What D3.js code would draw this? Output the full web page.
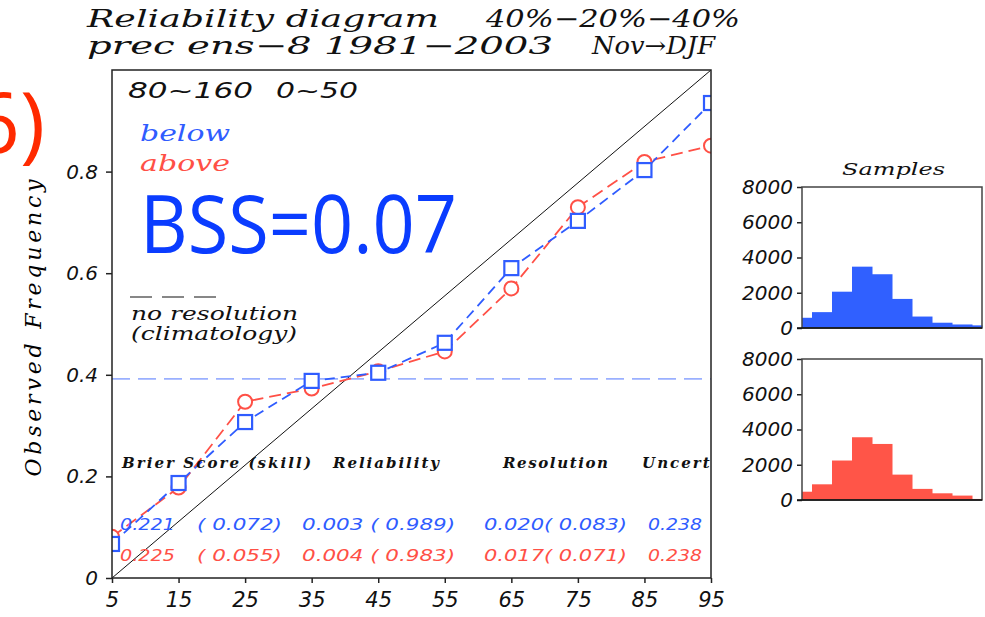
<!DOCTYPE html>
<html>
<head>
<meta charset="utf-8">
<script src="https://cdn.jsdelivr.net/npm/d3@7"></script>
<style>
body { margin: 0; background: #fff; }
</style>
</head>
<body>
<div class="container"></div>
<script>
// forecast probability bins (%)
var probBins = [5, 15, 25, 35, 45, 55, 65, 75, 85, 95];
// observed frequency per bin
var belowFreq = [0.067, 0.187, 0.307, 0.388, 0.404, 0.463, 0.610, 0.703, 0.803, 0.935];
var aboveFreq = [0.081, 0.178, 0.347, 0.373, 0.407, 0.446, 0.570, 0.730, 0.819, 0.851];
var climatology = 0.392;
// sample counts per bin
var belowSamples = [580, 900, 2060, 3480, 3050, 1650, 650, 300, 200, 150];
var aboveSamples = [470, 890, 2240, 3560, 3180, 1440, 630, 380, 250, 60];

var yTicks = [0, 0.2, 0.4, 0.6, 0.8];
var histTicks = [0, 2000, 4000, 6000, 8000];

var statHeads = ["Brier Score (skill)", "Reliability", "Resolution", "Uncert."];
var belowStats = ["0.221", "( 0.072)", "0.003 ( 0.989)", "0.020( 0.083)", "0.238"];
var aboveStats = ["0.225", "( 0.055)", "0.004 ( 0.983)", "0.017( 0.071)", "0.238"];

var blue = "#2f5cff", red = "#ff5046";
var serif = "'DejaVu Serif', serif", sans = "'DejaVu Sans', sans-serif";

var width = 985, height = 617;
var svg = d3.select("div.container").append("svg")
    .attr("width", width)
    .attr("height", height);

var x = d3.scaleLinear().domain([5, 95]).range([112, 711]),
    y = d3.scaleLinear().domain([0, 1]).range([578, 70]);

svg.append("defs").append("clipPath").attr("id", "frame")
    .append("rect")
    .attr("x", x(5)).attr("y", y(1))
    .attr("width", x(95) - x(5)).attr("height", y(0) - y(1));

// stretched text, to get the wide look of the plotting font
function label(px, py, len, font, color, str) {
    return svg.append("text").attr("x", px).attr("y", py)
        .attr("textLength", len).attr("lengthAdjust", "spacingAndGlyphs")
        .style("font", font).attr("fill", color || "#111")
        .text(str);
}

// titles
label(87, 27, 352, "italic 24px " + serif, "#111", "Reliability diagram");
label(486, 27, 254, "italic 24px " + serif, "#111", "40%\u221220%\u221240%");
label(87, 54, 466, "italic 24px " + serif, "#111", "prec ens\u22128 1981\u22122003");
label(592, 54, 123, "italic 24px " + serif, "#111", "Nov\u2192DJF");

// panel label, cut by the left edge
svg.append("text").attr("x", 45).attr("y", 153)
    .attr("text-anchor", "end")
    .attr("fill", "#ff2a00")
    .style("font", "85px 'Open Sans', sans-serif")
    .text("(6)");

// axes
var xAxis = d3.axisBottom(x).tickValues(probBins).tickSize(5).tickFormat(d3.format("d"));
var yAxis = d3.axisLeft(y).tickValues(yTicks).tickSize(6)
    .tickFormat(function(d) { return d === 0 ? "0" : d3.format(".1f")(d); });

var gx = svg.append("g").attr("transform", "translate(0," + y(0) + ")").call(xAxis);
gx.select(".domain").remove();
gx.selectAll("text").attr("y", 14).attr("dy", "0.71em")
    .style("font", "italic 21px " + sans).attr("fill", "#111");
var gy = svg.append("g").attr("transform", "translate(" + x(5) + ",0)").call(yAxis);
gy.select(".domain").remove();
gy.selectAll("text").attr("x", -14)
    .style("font", "italic 20px " + sans).attr("fill", "#111");
svg.selectAll(".tick line").attr("stroke", "#222").attr("stroke-width", 1.5);

svg.append("text")
    .attr("transform", "translate(41,328) rotate(-90)")
    .attr("text-anchor", "middle")
    .attr("textLength", 297).attr("lengthAdjust", "spacing")
    .style("font", "italic 22px " + serif)
    .text("Observed Frequency");

// plot contents
var plot = svg.append("g").attr("clip-path", "url(#frame)");

plot.append("line")
    .attr("x1", x(5)).attr("y1", y(0)).attr("x2", x(95)).attr("y2", y(1))
    .attr("stroke", "#111").attr("stroke-width", 1);

plot.append("line")
    .attr("x1", x(5)).attr("x2", x(95))
    .attr("y1", y(climatology)).attr("y2", y(climatology))
    .attr("stroke", "#9ab0ff").attr("stroke-width", 1.6)
    .attr("stroke-dasharray", "18,8");

var line = d3.line()
    .x(function(d, i) { return x(probBins[i]); })
    .y(function(d) { return y(d); });

plot.append("path").datum(aboveFreq)
    .attr("d", line).attr("fill", "none")
    .attr("stroke", red).attr("stroke-width", 1.8)
    .attr("stroke-dasharray", "12,6");
plot.append("path").datum(belowFreq)
    .attr("d", line).attr("fill", "none")
    .attr("stroke", blue).attr("stroke-width", 1.8)
    .attr("stroke-dasharray", "10,6");

plot.selectAll(".circ").data(aboveFreq).enter().append("circle")
    .attr("cx", function(d, i) { return x(probBins[i]); })
    .attr("cy", function(d) { return y(d); })
    .attr("r", 7)
    .attr("fill", "#fff").attr("stroke", red).attr("stroke-width", 2);
plot.selectAll(".sq").data(belowFreq).enter().append("rect")
    .attr("x", function(d, i) { return x(probBins[i]) - 7; })
    .attr("y", function(d) { return y(d) - 7; })
    .attr("width", 14).attr("height", 14)
    .attr("fill", "#fff").attr("stroke", blue).attr("stroke-width", 2.2);

// legend texts
label(128, 98, 125, "italic 22px " + sans, "#111", "80~160");
label(276, 98, 82, "italic 22px " + sans, "#111", "0~50");
label(140, 141, 90, "italic 22px " + serif, blue, "below");
label(140, 171, 90, "italic 22px " + serif, red, "above");
svg.append("text").attr("x", 140).attr("y", 253)
    .attr("textLength", 317).attr("lengthAdjust", "spacingAndGlyphs")
    .style("font", "80px 'Open Sans', sans-serif").attr("fill", "#0a3cff")
    .text("BSS=0.07");

svg.append("line").attr("x1", 130).attr("x2", 218).attr("y1", 297).attr("y2", 297)
    .attr("stroke", "#111").attr("stroke-width", 1.2).attr("stroke-dasharray", "22,10");
label(131, 320, 167, "italic 18px " + serif, "#111", "no resolution");
label(131, 340, 166, "italic 18px " + serif, "#111", "(climatology)");

// statistics table
var headX = [122, 333, 503, 642], headLen = [189, 106, 105, 75];
var statX = [120, 197, 302, 484, 648], statLen = [55, 85, 153, 143, 54];
var stats = svg.append("g").attr("clip-path", "url(#frame)");
stats.selectAll(".head").data(statHeads).enter().append("text")
    .attr("x", function(d, i) { return headX[i]; }).attr("y", 468)
    .attr("textLength", function(d, i) { return headLen[i]; })
    .attr("lengthAdjust", "spacing")
    .style("font", "italic bold 15px " + serif).attr("fill", "#111")
    .text(function(d) { return d; });
[[belowStats, blue, 530], [aboveStats, red, 561]].forEach(function(row) {
    stats.selectAll(null).data(row[0]).enter().append("text")
        .attr("x", function(d, i) { return statX[i]; }).attr("y", row[2])
        .attr("textLength", function(d, i) { return statLen[i]; })
        .attr("lengthAdjust", "spacingAndGlyphs")
        .style("font", "italic 15px " + sans).attr("fill", row[1])
        .text(function(d) { return d; });
});

// frame
svg.append("rect")
    .attr("x", x(5)).attr("y", y(1))
    .attr("width", x(95) - x(5)).attr("height", y(0) - y(1))
    .attr("fill", "none").attr("stroke", "#222").attr("stroke-width", 1.5);

// sample histograms
var hx = d3.scaleLinear().domain([5, 95]).range([802, 982]);
function histogram(counts, top, bottom, color) {
    var hy = d3.scaleLinear().domain([0, 8000]).range([bottom, top]);
    var g = svg.append("g");
    g.selectAll("rect").data(counts).enter().append("rect")
        .attr("x", function(d, i) { return hx(Math.max(5, probBins[i] - 5)); })
        .attr("width", function(d, i) {
            return hx(Math.min(95, probBins[i] + 5)) - hx(Math.max(5, probBins[i] - 5)) + 0.5;
        })
        .attr("y", function(d) { return hy(d); })
        .attr("height", function(d) { return bottom - hy(d); })
        .attr("fill", color);
    var ax = g.append("g").attr("transform", "translate(" + hx(5) + ",0)")
        .call(d3.axisLeft(hy).tickValues(histTicks).tickSize(5).tickFormat(d3.format("d")));
    ax.select(".domain").remove();
    ax.selectAll(".tick line").attr("stroke", "#222").attr("stroke-width", 1.5);
    ax.selectAll("text").attr("x", -9)
        .style("font", "italic 20px " + sans).attr("fill", "#111");
    g.append("rect")
        .attr("x", hx(5)).attr("y", top)
        .attr("width", hx(95) - hx(5)).attr("height", bottom - top)
        .attr("fill", "none").attr("stroke", "#444").attr("stroke-width", 1.5);
    g.append("line").attr("x1", hx(5) - 5).attr("x2", hx(95))
        .attr("y1", bottom).attr("y2", bottom)
        .attr("stroke", "#111").attr("stroke-width", 1.5);
}
histogram(belowSamples, 187, 328, "#3060ff");
histogram(aboveSamples, 359, 500, "#ff5548");

label(842, 175, 103, "italic 17px " + serif, "#111", "Samples");
</script>
</body>
</html>
